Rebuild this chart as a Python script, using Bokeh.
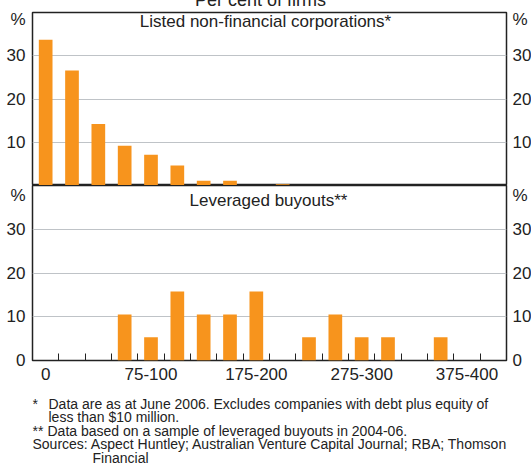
from bokeh.plotting import figure
from bokeh.models import Range1d, LinearAxis, FixedTicker, Label
from bokeh.layouts import column
from bokeh.embed import file_html
from bokeh.resources import INLINE

# ---- data -------------------------------------------------------------
categories = ["0", "0-25", "25-50", "50-75", "75-100", "100-125", "125-150",
              "150-175", "175-200", "200-225", "225-250", "250-275", "275-300",
              "300-325", "325-350", "350-375", "375-400", ">400"]
listed_pct = [33.7, 26.6, 14.2, 9.2, 7.1, 4.6, 1.1, 1.1, 0.0, 0.3,
              0.0, 0.0, 0.0, 0.0, 0.0, 0.0, 0.0, 0.0]
lbo_pct = [0.0, 0.0, 0.0, 10.5, 5.3, 15.8, 10.5, 10.5, 15.8, 0.0,
           5.3, 10.5, 5.3, 5.3, 0.0, 5.3, 0.0, 0.0]
shown_labels = ["0", "75-100", "175-200", "275-300", "375-400"]
y_ticks = [10, 20, 30]
chart_title = "Per cent of firms"
top_title = "Listed non-financial corporations*"
bottom_title = "Leveraged buyouts**"
note_lines = [
    ("*", "Data are as at June 2006. Excludes companies with debt plus equity of"),
    ("", "less than $10 million."),
    ("**", "Data based on a sample of leveraged buyouts in 2004-06."),
    ("", "Sources: Aspect Huntley; Australian Venture Capital Journal; RBA; Thomson"),
    ("", "Financial"),
]

# ---- style / layout ---------------------------------------------------
FONT = "Liberation Sans"
ORANGE = "#F7941D"
GRID = "#BFC3C7"
INK = "#222222"
PAGE_W = 531
LEFT = 32          # left border of the chart panels (frames are aligned)
n = len(categories)
centers = [i + 0.5 for i in range(n)]
boundaries = list(range(1, n))
label_pos = [categories.index(c) + 0.5 for c in shown_labels]


def text_fig(h):
    f = figure(frame_width=PAGE_W, frame_height=h,
               x_range=Range1d(LEFT, LEFT + PAGE_W), y_range=Range1d(0, h),
               x_axis_location=None, y_axis_location=None,
               min_border_left=0, min_border_right=0,
               min_border_top=0, min_border_bottom=0,
               output_backend="svg", toolbar_location=None)
    f.outline_line_color = None
    f.background_fill_color = "white"
    f.border_fill_color = "white"
    f.grid.visible = False
    return f


def lab(f, x, y, t, size, align="left", xo=0, yo=0):
    f.add_layout(Label(x=x, y=y, x_offset=xo, y_offset=yo, text=t,
                       text_align=align, text_baseline="middle",
                       text_font=FONT, text_font_size=size, text_color=INK))


def style_yaxis(ax, ticks, pct_at, standoff):
    ax.ticker = FixedTicker(ticks=ticks + [pct_at])
    ax.major_label_overrides = {pct_at: "%"}
    ax.axis_line_color = None
    ax.major_tick_in = 0
    ax.major_tick_out = 0
    ax.minor_tick_in = 0
    ax.minor_tick_out = 0
    ax.major_label_standoff = standoff
    ax.major_label_text_font = FONT
    ax.major_label_text_font_size = "17px"
    ax.major_label_text_color = INK


def make_panel(values, ticks, pct_at, frame_h, top_b, bottom_b, show_x):
    p = figure(frame_width=474, frame_height=frame_h,
               x_range=Range1d(0, n), y_range=Range1d(0, 40),
               output_backend="svg", toolbar_location=None,
               x_axis_location="below" if show_x else None,
               min_border_left=LEFT, min_border_right=20,
               min_border_top=top_b, min_border_bottom=bottom_b)
    p.background_fill_color = "white"
    p.border_fill_color = "white"
    p.outline_line_color = INK
    p.outline_line_width = 1.5
    p.xgrid.visible = False
    p.ygrid.ticker = FixedTicker(ticks=y_ticks)
    p.ygrid.grid_line_color = GRID
    p.ygrid.grid_line_width = 1
    p.vbar(x=centers, top=values, width=0.52, bottom=0,
           fill_color=ORANGE, line_color=None)
    style_yaxis(p.yaxis[0], ticks, pct_at, 7)
    right = LinearAxis()
    style_yaxis(right, ticks, pct_at, 6)
    p.add_layout(right, "right")
    if show_x:
        xa = p.xaxis[0]
        xa.ticker = FixedTicker(ticks=label_pos, minor_ticks=boundaries)
        xa.major_label_overrides = {pos: t for pos, t in zip(label_pos, shown_labels)}
        xa.axis_line_color = None
        xa.major_tick_in = 0
        xa.major_tick_out = 0
        xa.minor_tick_in = 7
        xa.minor_tick_out = 0
        xa.minor_tick_line_color = INK
        xa.minor_tick_line_width = 1
        xa.major_label_standoff = 7
        xa.major_label_text_font = FONT
        xa.major_label_text_font_size = "17px"
        xa.major_label_text_color = INK
    return p


# title strip (partly above the page top, as in the reference)
title_f = text_fig(21)
lab(title_f, 260, 9.4, chart_title, "18px", align="center")

p1 = make_panel(listed_pct, y_ticks, 38.5, 173, 3, 0, False)
p2 = make_panel(lbo_pct, [0] + y_ticks, 37.7, 175, 0, 36, True)
lab(p1, n / 2, 40, top_title, "17px", align="center", xo=-4, yo=-9)
lab(p2, n / 2, 40, bottom_title, "17px", align="center", xo=-1, yo=-15)

notes_f = text_fig(70)
note_y = [63, 49.5, 36, 22.5, 9]
note_text_x = [48, 48, 47, 32, 92]
for (mark, txt), y, tx in zip(note_lines, note_y, note_text_x):
    if mark:
        lab(notes_f, 32, y, mark, "14px")
    lab(notes_f, tx, y, txt, "14px")

layout = column(title_f, p1, p2, notes_f, spacing=0,
                styles={"margin-top": "-12px"})

open("out.html", "w").write(file_html(layout, INLINE))
